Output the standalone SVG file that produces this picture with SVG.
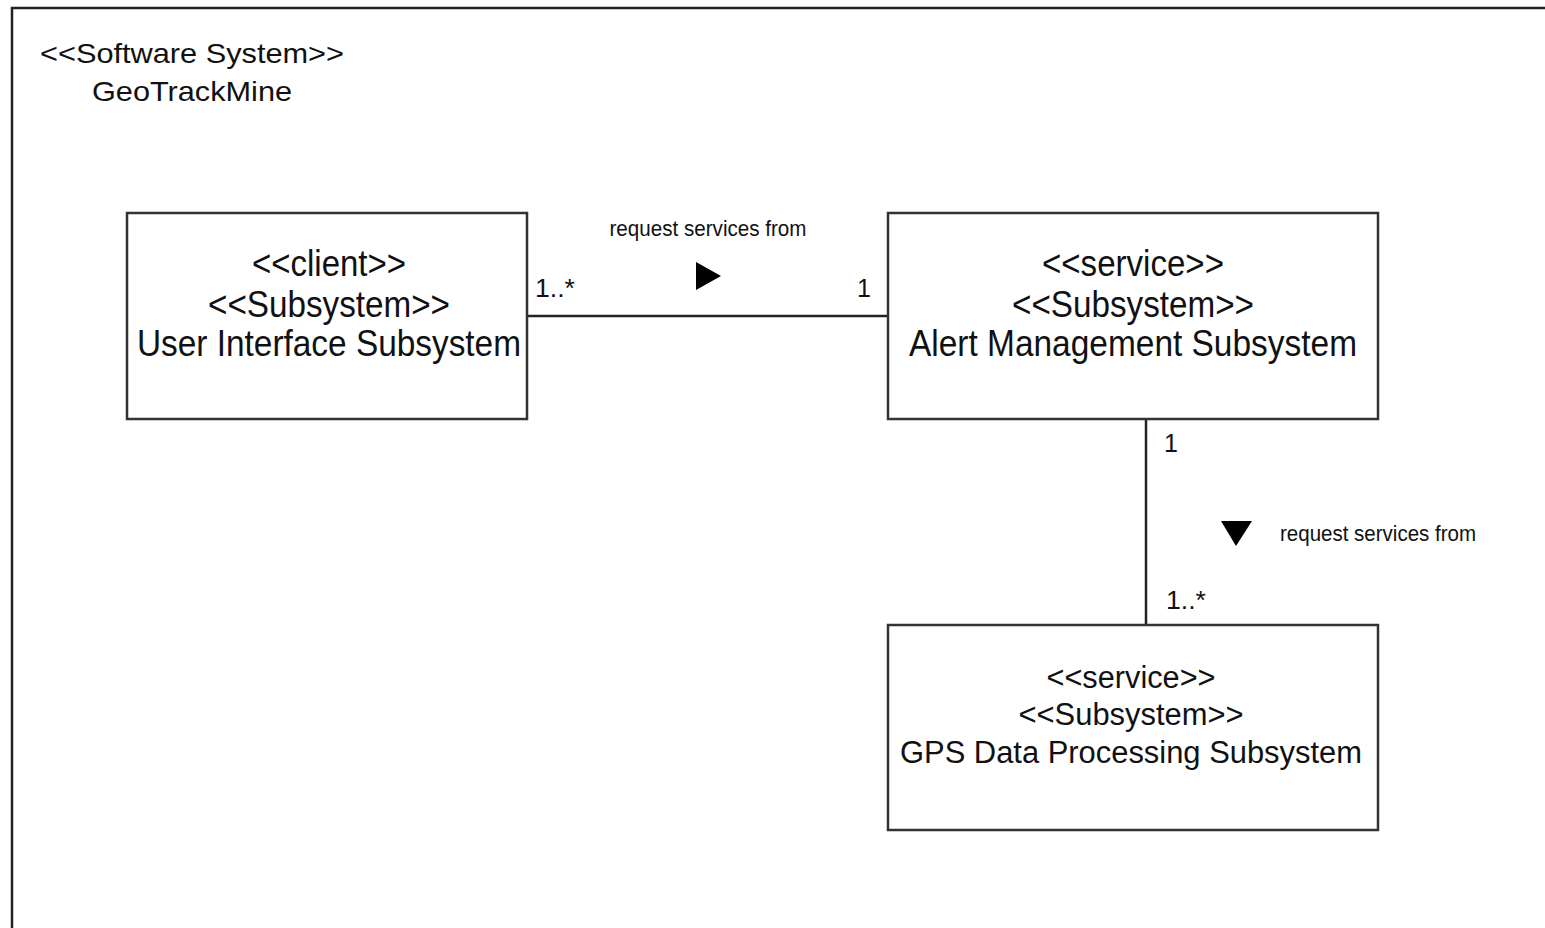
<svg xmlns="http://www.w3.org/2000/svg" width="1545" height="928" viewBox="0 0 1545 928">
<style>
.box{fill:#fff;stroke:#333;stroke-width:2.5}
.t{font-family:"Liberation Sans",Arial,sans-serif;fill:#111}
.big{font-size:37px}
.mid{font-size:31px}
.sm{font-size:22px}
.mult{font-size:25px}
.line{stroke:#222;stroke-width:2.5;fill:none}
</style>
<rect width="1545" height="928" fill="#fff"/>
<g id="frame">
<path d="M12 940 V8 H1560" class="line" stroke="#333"/>
<text class="t" x="40" y="63" font-size="28" textLength="304" lengthAdjust="spacingAndGlyphs">&lt;&lt;Software System&gt;&gt;</text>
<text class="t" x="92" y="101" font-size="28" textLength="200" lengthAdjust="spacingAndGlyphs">GeoTrackMine</text>
</g>
<g id="connectors">
<line class="line" x1="528" y1="316" x2="888" y2="316"/>
<line class="line" x1="1146" y1="419" x2="1146" y2="625"/>
<text class="t sm" x="708" y="236" text-anchor="middle" textLength="197" lengthAdjust="spacingAndGlyphs">request services from</text>
<polygon points="696,262 721,276 696,290" fill="#000"/>
<text class="t mult" x="535" y="297" textLength="40" lengthAdjust="spacingAndGlyphs">1..*</text>
<text class="t mult" x="857" y="297">1</text>
<text class="t mult" x="1164" y="452">1</text>
<text class="t mult" x="1166" y="609" textLength="40" lengthAdjust="spacingAndGlyphs">1..*</text>
<polygon points="1221,521 1252,521 1236,546" fill="#000"/>
<text class="t sm" x="1280" y="541" textLength="196" lengthAdjust="spacingAndGlyphs">request services from</text>
</g>
<g id="ui">
<rect class="box" x="127" y="213" width="400" height="206"/>
<text class="t big" x="329" y="276" text-anchor="middle" textLength="154" lengthAdjust="spacingAndGlyphs">&lt;&lt;client&gt;&gt;</text>
<text class="t big" x="329" y="317" text-anchor="middle" textLength="242" lengthAdjust="spacingAndGlyphs">&lt;&lt;Subsystem&gt;&gt;</text>
<text class="t big" x="329" y="356" text-anchor="middle" textLength="384" lengthAdjust="spacingAndGlyphs">User Interface Subsystem</text>
</g>
<g id="alert">
<rect class="box" x="888" y="213" width="490" height="206"/>
<text class="t big" x="1133" y="276" text-anchor="middle" textLength="182" lengthAdjust="spacingAndGlyphs">&lt;&lt;service&gt;&gt;</text>
<text class="t big" x="1133" y="317" text-anchor="middle" textLength="242" lengthAdjust="spacingAndGlyphs">&lt;&lt;Subsystem&gt;&gt;</text>
<text class="t big" x="1133" y="356" text-anchor="middle" textLength="448" lengthAdjust="spacingAndGlyphs">Alert Management Subsystem</text>
</g>
<g id="gps">
<rect class="box" x="888" y="625" width="490" height="205"/>
<text class="t mid" x="1131" y="688" text-anchor="middle" textLength="169" lengthAdjust="spacingAndGlyphs">&lt;&lt;service&gt;&gt;</text>
<text class="t mid" x="1131" y="725" text-anchor="middle" textLength="225" lengthAdjust="spacingAndGlyphs">&lt;&lt;Subsystem&gt;&gt;</text>
<text class="t mid" x="1131" y="763" text-anchor="middle" textLength="462" lengthAdjust="spacingAndGlyphs">GPS Data Processing Subsystem</text>
</g>
</svg>
